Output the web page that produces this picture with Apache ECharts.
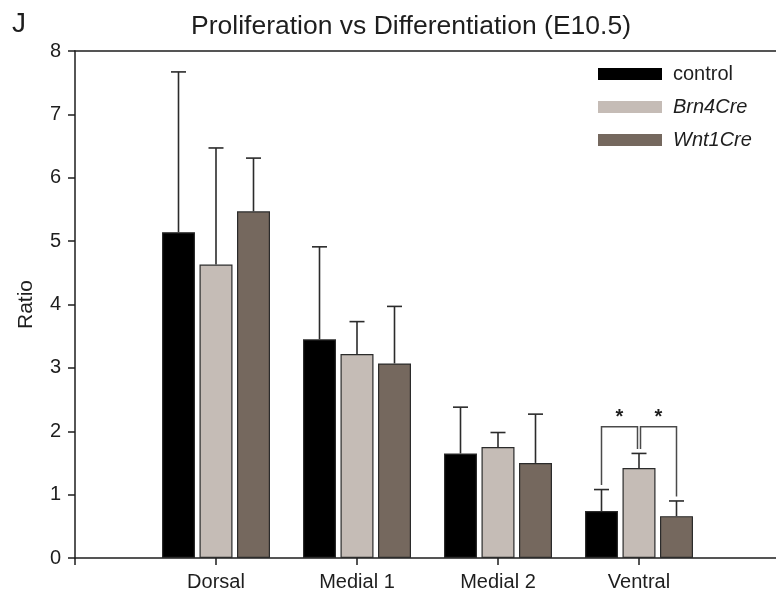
<!DOCTYPE html>
<html>
<head>
<meta charset="utf-8">
<script src="https://cdn.jsdelivr.net/npm/echarts@6/dist/echarts.min.js"></script>
<style>
html,body{margin:0;padding:0;background:#fff;}
#chart{width:776px;height:598px;}
</style>
</head>
<body>
<div id="chart"></div>
<script>
// ---- data ----
const categories = ['Dorsal', 'Medial 1', 'Medial 2', 'Ventral'];
const seriesNames = ['control', 'Brn4Cre', 'Wnt1Cre'];
const controlMean = [5.14, 3.45, 1.65, 0.74];
const controlSD   = [2.53, 1.46, 0.73, 0.34];
const brn4Mean    = [4.63, 3.22, 1.75, 1.42];
const brn4SD      = [1.84, 0.51, 0.23, 0.23];
const wnt1Mean    = [5.47, 3.07, 1.50, 0.66];
const wnt1SD      = [0.84, 0.90, 0.77, 0.24];
const yTicks = [0, 1, 2, 3, 4, 5, 6, 7, 8];
const sigCategory = 'Ventral';
const sigLevel = 2.07;
const sigPairs = [[0, 1], [1, 2]];
const titleText = 'Proliferation vs Differentiation (E10.5)';
const panelLabel = 'J';
const yName = 'Ratio';

// ---- styling / layout ----
const FONT = 'Liberation Sans';
const TEXT = '#1e1e1e';
const colors = ['#000000', '#c5bcb6', '#75685e'];
const BAR_W = 33, BAR_GAP = 4.5;
const offsets = [-(BAR_W + BAR_GAP), 0, (BAR_W + BAR_GAP)];
const CAP = 15;

const axisData = [''].concat(categories, ['']);
const means = [controlMean, brn4Mean, wnt1Mean];
const sds = [controlSD, brn4SD, wnt1SD];

const barSeries = seriesNames.map((name, s) => ({
  name: name,
  type: 'bar',
  xAxisIndex: 0,
  barWidth: BAR_W,
  barGap: (BAR_GAP / BAR_W * 100) + '%',
  itemStyle: { color: colors[s], borderColor: '#2b2b2b', borderWidth: 1.2 },
  data: ['-'].concat(means[s], ['-']),
  z: 2
}));

const errData = [];
seriesNames.forEach((n, s) => {
  categories.forEach((c, i) => errData.push([i + 1, means[s][i], sds[s][i], s]));
});

const errSeries = {
  type: 'custom',
  xAxisIndex: 0,
  data: errData,
  encode: { x: 0, y: 1 },
  z: 3,
  silent: true,
  renderItem: function (params, api) {
    const cat = api.value(0), m = api.value(1), e = api.value(2), s = api.value(3);
    const p0 = api.coord([cat, m]);
    const p1 = api.coord([cat, m + e]);
    const x = p0[0] + offsets[s];
    const st = { stroke: '#2b2b2b', lineWidth: 1.6 };
    return {
      type: 'group',
      children: [
        { type: 'line', shape: { x1: x, y1: p0[1], x2: x, y2: p1[1] }, style: st },
        { type: 'line', shape: { x1: x - CAP / 2, y1: p1[1], x2: x + CAP / 2, y2: p1[1] }, style: st }
      ]
    };
  }
};

const ci = categories.indexOf(sigCategory);
const sigSeries = {
  type: 'custom',
  xAxisIndex: 0,
  data: sigPairs.map(p => [ci + 1, sigLevel, p[0], p[1]]),
  encode: { x: 0, y: 1 },
  z: 4,
  silent: true,
  renderItem: function (params, api) {
    const cat = api.value(0), lvl = api.value(1), a = api.value(2), b = api.value(3);
    const top = api.coord([cat, lvl]);
    const topA = api.coord([cat, means[a][ci] + sds[a][ci]]);
    const topB = api.coord([cat, means[b][ci] + sds[b][ci]]);
    const shared = 1;
    let xa = top[0] + offsets[a] + (a === shared ? 1.5 : 0);
    let xb = top[0] + offsets[b] - (b === shared ? 1.5 : 0);
    const st = { stroke: '#4a4a4a', lineWidth: 1.5, fill: null };
    return {
      type: 'group',
      children: [
        { type: 'polyline', shape: { points: [[xa, topA[1] - 4.5], [xa, top[1]], [xb, top[1]], [xb, topB[1] - 4.5]] }, style: st },
        { type: 'text', style: { text: '*', x: (xa + xb) / 2, y: top[1] - 9, align: 'center', verticalAlign: 'middle', font: 'bold 20px ' + FONT, fill: '#1e1e1e' } }
      ]
    };
  }
};

const chart = echarts.init(document.getElementById('chart'), null, { renderer: 'canvas' });
chart.setOption({
  animation: false,
  backgroundColor: '#ffffff',
  title: [
    { text: panelLabel, left: 7, top: 5, textStyle: { fontFamily: FONT, fontSize: 28, fontWeight: 'normal', color: TEXT } },
    { text: titleText, left: 406, textAlign: 'center', top: 8, textStyle: { fontFamily: FONT, fontSize: 26.5, fontWeight: 'normal', color: TEXT } }
  ],
  legend: {
    data: seriesNames,
    orient: 'vertical',
    left: 598,
    top: 64,
    padding: 0,
    icon: 'rect',
    itemWidth: 64,
    itemHeight: 12,
    itemGap: 13,
    itemStyle: { borderWidth: 0 },
    formatter: function (name) { return name === 'control' ? name : '{i|' + name + '}'; },
    textStyle: {
      fontFamily: FONT, fontSize: 20, color: TEXT, padding: [0, 0, 0, 6],
      rich: { i: { fontFamily: FONT, fontSize: 20, fontStyle: 'italic', color: TEXT } }
    }
  },
  grid: { left: 75, width: 705, top: 51, bottom: 40, containLabel: false, outerBoundsMode: 'none' },
  xAxis: [
    {
      type: 'category',
      data: axisData,
      boundaryGap: false,
      axisLine: { show: true, lineStyle: { color: '#1e1e1e', width: 1.5 } },
      axisTick: { show: true, inside: false, length: 7, lineStyle: { color: '#1e1e1e', width: 1.5 },
        interval: function (idx) { return idx < axisData.length - 1; } },
      axisLabel: { interval: 0, margin: 14, fontFamily: FONT, fontSize: 20, color: TEXT },
      splitLine: { show: false }
    },
    {
      type: 'category',
      data: axisData,
      position: 'top',
      boundaryGap: false,
      axisLine: { show: true, lineStyle: { color: '#1e1e1e', width: 1.5 } },
      axisTick: { show: false },
      axisLabel: { show: false },
      splitLine: { show: false }
    }
  ],
  yAxis: {
    type: 'value',
    min: yTicks[0],
    max: yTicks[yTicks.length - 1],
    interval: 1,
    name: yName,
    nameLocation: 'middle',
    nameRotate: 90,
    nameGap: 38,
    nameTextStyle: { fontFamily: FONT, fontSize: 21, color: TEXT },
    axisLine: { show: true, lineStyle: { color: '#1e1e1e', width: 1.5 } },
    axisTick: { show: true, inside: false, length: 7, lineStyle: { color: '#1e1e1e', width: 1.5 } },
    axisLabel: { margin: 14, fontFamily: FONT, fontSize: 20, color: TEXT },
    splitLine: { show: false }
  },
  series: barSeries.concat([errSeries, sigSeries])
});
</script>
</body>
</html>
